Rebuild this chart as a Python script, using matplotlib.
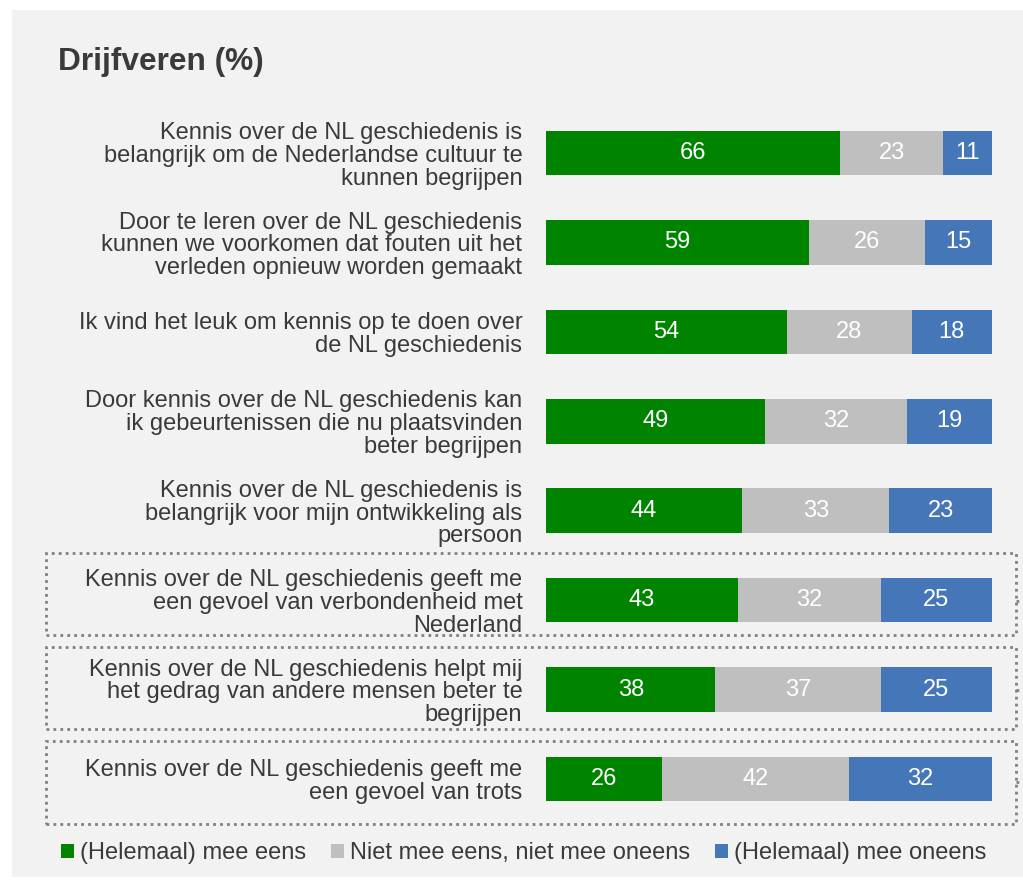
import matplotlib.pyplot as plt
from matplotlib.patches import Rectangle
from matplotlib.lines import Line2D
import numpy as np

# ── Data ─────────────────────────────────────────────────────────
statements = [
    'Kennis over de NL geschiedenis is\nbelangrijk om de Nederlandse cultuur te\nkunnen begrijpen',
    'Door te leren over de NL geschiedenis\nkunnen we voorkomen dat fouten uit het\nverleden opnieuw worden gemaakt',
    'Ik vind het leuk om kennis op te doen over\nde NL geschiedenis',
    'Door kennis over de NL geschiedenis kan\nik gebeurtenissen die nu plaatsvinden\nbeter begrijpen',
    'Kennis over de NL geschiedenis is\nbelangrijk voor mijn ontwikkeling als\npersoon',
    'Kennis over de NL geschiedenis geeft me\neen gevoel van verbondenheid met\nNederland',
    'Kennis over de NL geschiedenis helpt mij\nhet gedrag van andere mensen beter te\nbegrijpen',
    'Kennis over de NL geschiedenis geeft me\neen gevoel van trots',
]
eens = [66, 59, 54, 49, 44, 43, 38, 26]
neutraal = [23, 26, 28, 32, 33, 32, 37, 42]
oneens = [11, 15, 18, 19, 23, 25, 25, 32]
series_names = ['(Helemaal) mee eens', 'Niet mee eens, niet mee oneens',
                '(Helemaal) mee oneens']

# ── Style ─────────────────────────────────────────────────────────
colors = ['#008400', '#bfbfbf', '#4577b8']
panel_color = '#f2f2f2'
text_color = '#3a3a3a'
box_color = '#808080'
W, H = 1023, 882

plt.rcParams['font.family'] = ['Liberation Sans', 'DejaVu Sans']

fig = plt.figure(figsize=(W / 100, H / 100), dpi=100, facecolor='white')

# grey panel behind everything
fig.patches.append(Rectangle((12 / W, 1 - 877 / H), (W - 12) / W, 867 / H,
                             transform=fig.transFigure, facecolor=panel_color,
                             edgecolor='none', zorder=-5))

# dotted boxes around the last three statements (pixel coords: top, bottom)
for top, bot, mid in [(553, 635, 601), (647, 729, 690), (741, 824, 782)]:
    fig.patches.append(Rectangle((46 / W, 1 - bot / H), (1016 - 46) / W, (bot - top) / H,
                                 transform=fig.transFigure, facecolor='none',
                                 edgecolor=box_color, linestyle=(0, (1, 1.5)),
                                 linewidth=2, zorder=-1))
    fig.lines.append(Line2D([1016 / W, 1023 / W], [1 - mid / H, 1 - mid / H],
                            transform=fig.transFigure, color=box_color,
                            linestyle=(0, (1, 1.5)), linewidth=2, zorder=-1))

ax = fig.add_axes([546 / W, 1 - 823.7 / H, 446 / W, 715.4 / H])
ax.set_facecolor('none')

y = np.arange(len(statements))
left = np.zeros(len(statements))
for vals, col, name in zip([eens, neutraal, oneens], colors, series_names):
    vals = np.array(vals)
    ax.barh(y, vals, left=left, height=0.5, color=col, label=name,
            edgecolor='none', zorder=2)
    for yi, l, v in zip(y, left, vals):
        ax.text(l + v / 2, yi, f'{v}', ha='center', va='center', color='white',
                fontsize=17, zorder=3)
    left += vals

ax.set_xlim(0, 100)
ax.set_ylim(len(statements) - 0.5, -0.5)
ax.set_yticks(y)
ax.set_yticklabels(statements, fontsize=17, color=text_color, linespacing=1.05)
ax.tick_params(axis='y', length=0, pad=17)
ax.set_xticks([])
for s in ax.spines.values():
    s.set_visible(False)

# ── Title ────────────────────────────────────────────────────────
fig.text(58 / W, 1 - 62 / H, 'Drijfveren (%)', fontsize=22.8, fontweight='bold',
         color=text_color, va='center', ha='left')

# ── Legend ───────────────────────────────────────────────────────
handles, labels = ax.get_legend_handles_labels()
fig.legend(handles, labels, loc='center left', bbox_to_anchor=(61 / W, 1 - 853 / H),
           ncol=3, frameon=False, fontsize=17, labelcolor=text_color,
           handlelength=0.55, handleheight=0.55, handletextpad=0.25,
           columnspacing=1.05, borderaxespad=0, borderpad=0)

fig.savefig('out.png', dpi=100, facecolor='white')
